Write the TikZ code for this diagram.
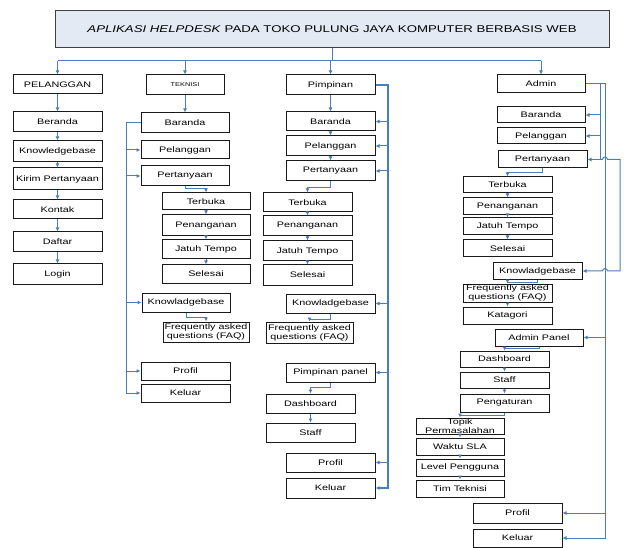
\documentclass[tikz,border=0pt]{standalone}
\usepackage{fontspec}
\setmainfont{Liberation Sans}[FakeStretch=1.35]
\usetikzlibrary{arrows.meta}
\definecolor{linkblue}{HTML}{4A7EBB}
\definecolor{titlefill}{HTML}{E3EAF4}

\tikzset{
  box/.style={draw=black!90, line width=1pt, inner sep=0pt, align=center,
              font=\fontsize{8}{9}\selectfont, fill=white},
  conn/.style={draw=linkblue, line width=1pt},
  arr/.style={conn, -{Latex[length=4pt,width=4pt]}},
  trunk/.style={arr, line width=1.4pt},
}
% \mybox[options]{name}{x1}{y1}{x2}{y2}{text}
\newcommand\mybox[7][]{%
  \node[box,#1,minimum width={#5-#3},minimum height={#6-#4}] (#2)
    at ({(#3+#5)/2},{(#4+#6)/2}) {#7};}

\begin{document}
\begin{tikzpicture}[x=1pt,y=-1pt]
\useasboundingbox (0,0) rectangle (624,548);

% ---------- title ----------
\mybox[fill=titlefill,draw=black!75,font=\fontsize{9.8}{11}\selectfont]{title}{55}{11}{609}{48}
  {\textit{APLIKASI HELPDESK} PADA TOKO PULUNG JAYA KOMPUTER BERBASIS WEB}

% ---------- PELANGGAN ----------
\mybox{pel}{13}{75}{102}{94}{PELANGGAN}
\mybox{pber}{13}{112}{102}{132}{Beranda}
\mybox{pkb}{13}{141}{102}{162}{Knowledgebase}
\mybox{pkir}{13}{168}{102}{190}{Kirim Pertanyaan}
\mybox{pkon}{13}{200}{102}{219}{Kontak}
\mybox{pdaf}{13}{232}{102}{252}{Daftar}
\mybox{plog}{13}{264}{102}{284}{Login}

% ---------- TEKNISI ----------
\mybox[font=\fontsize{5.5}{6}\selectfont]{tek}{146}{75}{224}{95}{TEKNISI}
\mybox{tbar}{141}{113}{229}{133}{Baranda}
\mybox{tpel}{141}{141}{229}{159}{Pelanggan}
\mybox{tper}{141}{166}{229}{186}{Pertanyaan}
\mybox{tter}{162}{193}{250}{210}{Terbuka}
\mybox{tpen}{162}{215}{250}{236}{Penanganan}
\mybox{tjat}{162}{240}{250}{259}{Jatuh Tempo}
\mybox{tsel}{162}{265}{250}{283}{Selesai}
\mybox{tkb}{142}{293}{230}{312}{Knowladgebase}
\mybox{tfaq}{163}{322}{249}{342}{Frequently asked\\questions (FAQ)}
\mybox{tpro}{141}{362}{230}{380}{Profil}
\mybox{tkel}{141}{384}{230}{402}{Keluar}

% ---------- Pimpinan ----------
\mybox{pim}{286}{75}{375}{95}{Pimpinan}
\mybox{mbar}{286}{112}{375}{131}{Baranda}
\mybox{mpel}{286}{136}{375}{156}{Pelanggan}
\mybox{mper}{286}{161}{375}{181}{Pertanyaan}
\mybox{mter}{263}{193}{352}{212}{Terbuka}
\mybox{mpen}{263}{216}{352}{236}{Penanganan}
\mybox{mjat}{263}{241}{352}{261}{Jatuh Tempo}
\mybox{msel}{263}{265}{352}{285}{Selesai}
\mybox{mkb}{286}{294}{375}{313}{Knowladgebase}
\mybox{mfaq}{266}{322}{353}{343}{Frequently asked\\questions (FAQ)}
\mybox{mpp}{286}{363}{375}{382}{Pimpinan panel}
\mybox{mdash}{266}{394}{355}{413}{Dashboard}
\mybox{mstaff}{266}{423}{355}{442}{Staff}
\mybox{mpro}{286}{453}{375}{472}{Profil}
\mybox{mkel}{286}{478}{375}{498}{Keluar}

% ---------- Admin ----------
\mybox{adm}{497}{75}{585}{93}{Admin}
\mybox{abar}{497}{107}{585}{123}{Baranda}
\mybox{apel}{497}{128}{585}{144}{Pelanggan}
\mybox{aper}{498}{151}{587}{168}{Pertanyaan}
\mybox{ater}{463}{177}{552}{193}{Terbuka}
\mybox{apen}{463}{198}{552}{215}{Penanganan}
\mybox{ajat}{463}{218}{552}{235}{Jatuh Tempo}
\mybox{asel}{463}{240}{552}{257}{Selesai}
\mybox{akb}{493}{263}{582}{279}{Knowladgebase}
\mybox[font=\fontsize{8}{8.5}\selectfont]{afaq}{463}{284}{552}{302}{Frequently asked\\questions (FAQ)}
\mybox{akat}{463}{307}{552}{324}{Katagori}
\mybox{aap}{495}{329}{583}{346}{Admin Panel}
\mybox{adash}{460}{351}{549}{367}{Dashboard}
\mybox{astaff}{460}{372}{549}{388}{Staff}
\mybox{apeng}{460}{394}{549}{412}{Pengaturan}
\mybox[font=\fontsize{8}{8.5}\selectfont]{atop}{416}{418}{504}{434}{Topik\\Permasalahan}
\mybox{awak}{416}{438}{504}{455}{Waktu SLA}
\mybox{alev}{416}{459}{504}{476}{Level Pengguna}
\mybox{atim}{416}{480}{504}{497}{Tim Teknisi}
\mybox{apro}{473}{503}{562}{523}{Profil}
\mybox{akel}{473}{529}{562}{547}{Keluar}

% ---------- title to the four roles ----------
\coordinate (hub) at (332,61);
\draw[conn] (title.south) -- (hub);
\draw[conn] (pel.north |- hub) -- (adm.north |- hub);
\foreach \n in {pel,tek,pim,adm} \draw[arr] (\n.north |- hub) -- (\n.north);

% ---------- PELANGGAN chain ----------
\foreach \a/\b in {pel/pber,pber/pkb,pkb/pkir,pkir/pkon,pkon/pdaf,pdaf/plog}
  \draw[arr] (\a.south) -- (\b.north);

% ---------- TEKNISI links ----------
\draw[arr] (tek.south) -- (tbar.north);
\coordinate (ttrunk) at (126,123);
\draw[arr] (tbar.west) -- (ttrunk) |- (tkel.west);
\foreach \n in {tpel,tper,tkb,tpro} \draw[arr] (ttrunk |- \n.west) -- (\n.west);
\draw[arr] (tper.south) -- ++(0,2.5) -| (tter.north);
\foreach \a/\b in {tter/tpen,tpen/tjat,tjat/tsel} \draw[arr] (\a.south) -- (\b.north);
\draw[arr] (tkb.south) -- ++(0,5) -| (tfaq.north);

% ---------- Pimpinan links ----------
\foreach \a/\b in {pim/mbar,mbar/mpel,mpel/mper} \draw[arr] (\a.south) -- (\b.north);
\coordinate (mtrunk) at (388,85);
\draw[trunk] (pim.east) -- (mtrunk) |- (mkel.east);
\foreach \n in {mbar,mpel,mper,mkb,mpp,mpro} \draw[arr] (mtrunk |- \n.east) -- (\n.east);
\draw[arr] (mper.south) -- ++(0,6) -| (mter.north);
\foreach \a/\b in {mter/mpen,mpen/mjat,mjat/msel} \draw[arr] (\a.south) -- (\b.north);
\draw[arr] (mkb.south) -- ++(0,6) -| (mfaq.north);
\draw[arr] (mpp.south) -- ++(0,5) -| (mdash.north);
\draw[arr] (mdash.south) -- (mstaff.north);

% ---------- Admin links ----------
\coordinate (atrunk) at (605,84);
\coordinate (asub) at (600,84);
\coordinate (abr) at (620,84);
\draw[arr] (adm.east) -- (atrunk) |- (akel.east);
\foreach \n in {aap,apro} \draw[arr] (atrunk |- \n.east) -- (\n.east);
\draw[conn] (asub) -- (asub |- aper.east);
\foreach \n in {abar,apel,aper} \draw[arr] (asub |- \n.east) -- (\n.east);
\draw[arr] (asub |- aper.east) -- ([xshift=-2.5pt]atrunk |- aper.east)
  arc[start angle=180,end angle=0,radius=2.5pt] -- (abr |- aper.east)
  -- (abr |- akb.east) -- ([xshift=2.5pt]atrunk |- akb.east)
  arc[start angle=0,end angle=180,radius=2.5pt] -- (akb.east);
\draw[arr] (aper.south) -- ++(0,4) -| (ater.north);
\foreach \a/\b in {ater/apen,apen/ajat,ajat/asel} \draw[arr] (\a.south) -- (\b.north);
\draw[arr] (akb.south) -- ++(0,2.5) -| (afaq.north);
\draw[arr] (afaq.south) -- (akat.north);
\draw[arr] (aap.south) -- ++(0,2) -| (adash.north);
\foreach \a/\b in {adash/astaff,astaff/apeng} \draw[arr] (\a.south) -- (\b.north);
\draw[arr] (apeng.south) -- ++(0,3) -| (atop.north);
\foreach \a/\b in {atop/awak,awak/alev,alev/atim} \draw[arr] (\a.south) -- (\b.north);
\end{tikzpicture}
\end{document}
